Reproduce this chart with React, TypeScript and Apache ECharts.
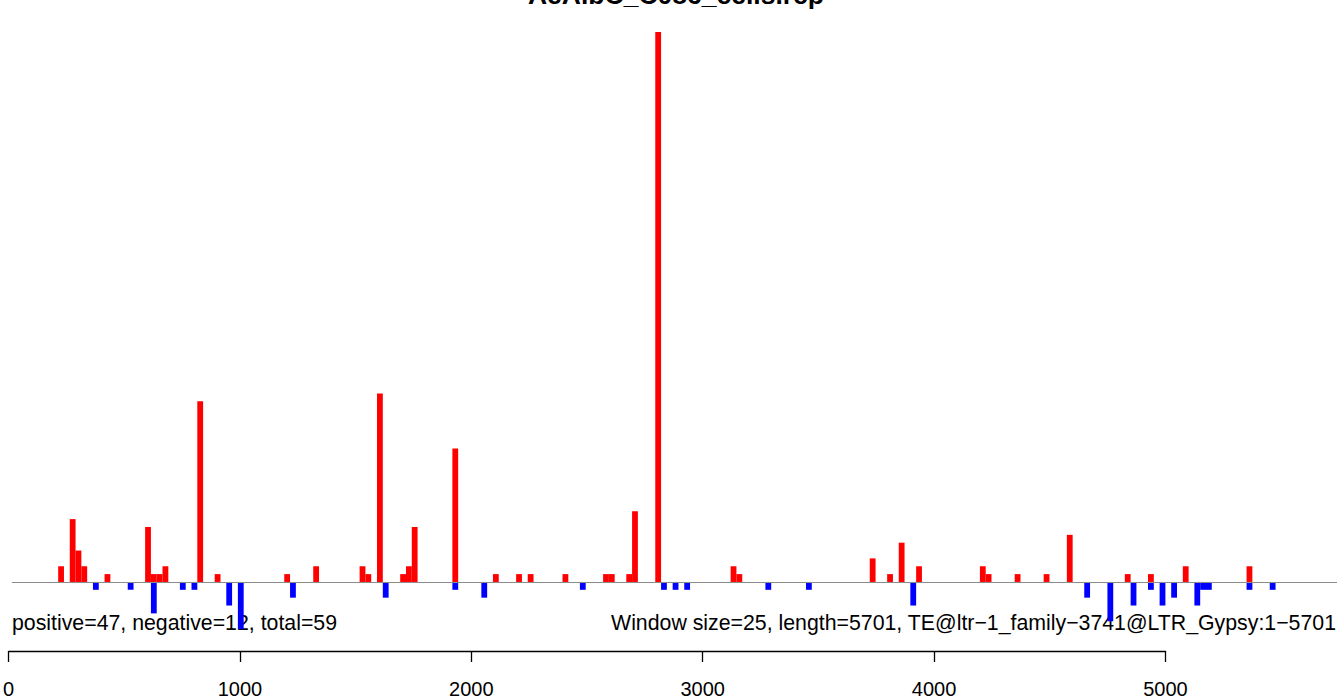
import React, { useEffect, useRef } from "react";
import * as echarts from "echarts";

const WINDOW_SIZE = 25;
const SEQ_MAX = 5740;

const posStarts = [225, 275, 300, 325, 425, 600, 625, 650, 675, 825, 900, 1200, 1325, 1525, 1550, 1600, 1700, 1725, 1750, 1925, 2100, 2200, 2250, 2400, 2575, 2600, 2675, 2700, 2800, 3125, 3150, 3725, 3800, 3850, 3925, 4200, 4225, 4350, 4475, 4575, 4825, 4925, 5075, 5350];
const posValues = [2, 8, 4, 2, 1, 7, 1, 1, 2, 23, 1, 1, 2, 2, 1, 24, 1, 2, 7, 17, 1, 1, 1, 1, 1, 1, 1, 9, 70, 2, 1, 3, 1, 5, 2, 2, 1, 1, 1, 6, 1, 1, 2, 2];

const negStarts = [375, 525, 625, 750, 800, 950, 1000, 1225, 1625, 1925, 2050, 2475, 2825, 2875, 2925, 3275, 3450, 3900, 4650, 4750, 4850, 4925, 4975, 5025, 5125, 5150, 5175, 5350, 5450];
const negValues = [-1, -1, -4, -1, -1, -3, -6, -2, -2, -1, -2, -1, -1, -1, -1, -1, -1, -3, -2, -5, -3, -1, -3, -2, -3, -1, -1, -1, -1];

const axisTicks = [0, 1000, 2000, 3000, 4000, 5000];

const titleText = "AeAlbC_C086_cells.rcp";
const leftNote = "positive=47, negative=12, total=59";
const rightNote = "Window size=25, length=5701, TE@ltr\u22121_family\u22123741@LTR_Gypsy:1\u22125701";

const FONT = "'Liberation Sans', Arial, Helvetica, sans-serif";

export default function App() {
  const ref = useRef<HTMLDivElement>(null);
  useEffect(() => {
    document.body.style.margin = "0";
    const chart = echarts.init(ref.current!, null, { renderer: "svg" });
    const renderBar = (color: string) => (params: any, api: any) => {
      const x = api.value(0);
      const v = api.value(1);
      const p0 = api.coord([x, 0]);
      const p1 = api.coord([x + WINDOW_SIZE, v]);
      return {
        type: "rect",
        shape: {
          x: p0[0],
          y: Math.min(p0[1], p1[1]),
          width: p1[0] - p0[0],
          height: Math.abs(p1[1] - p0[1]),
        },
        style: { fill: color },
      };
    };
    const option: any = {
      animation: false,
      backgroundColor: "#ffffff",
      grid: [
        { left: 6, right: 0, top: 32, bottom: 69.9, containLabel: false },
        { left: 6, width: 1159.5, top: 600, bottom: 44, containLabel: false },
      ],
      xAxis: [
        { type: "value", gridIndex: 0, min: 0, max: SEQ_MAX, show: false },
        {
          type: "value",
          gridIndex: 1,
          min: axisTicks[0],
          max: axisTicks[axisTicks.length - 1],
          interval: 1000,
          position: "bottom",
          axisLine: { show: true, lineStyle: { color: "#000", width: 1.3 } },
          axisTick: { show: true, length: 11, lineStyle: { color: "#000", width: 1.3 } },
          axisLabel: {
            show: true,
            color: "#000",
            fontSize: 20,
            fontFamily: FONT,
            margin: 28,
            formatter: (v: number) => String(v),
          },
          splitLine: { show: false },
        },
      ],
      yAxis: [
        { type: "value", gridIndex: 0, min: -6, max: 70, show: false },
        { type: "value", gridIndex: 1, min: 0, max: 1, show: false },
      ],
      series: [
        {
          type: "custom",
          xAxisIndex: 0,
          yAxisIndex: 0,
          renderItem: renderBar("#ff0000"),
          data: posStarts.map((s, i) => [s, posValues[i]]),
          markLine: {
            silent: true,
            symbol: "none",
            label: { show: false },
            lineStyle: { color: "#8c8c8c", width: 1, type: "solid" },
            data: [[{ coord: [WINDOW_SIZE, 0] }, { coord: [SEQ_MAX, 0] }]],
          },
          z: 2,
        },
        {
          type: "custom",
          xAxisIndex: 0,
          yAxisIndex: 0,
          renderItem: renderBar("#0000ff"),
          data: negStarts.map((s, i) => [s, negValues[i]]),
          z: 3,
        },
      ],
      graphic: [
        {
          type: "text",
          x: 676,
          y: -5,
          style: {
            text: titleText,
            font: `bold 26.5px ${FONT}`,
            fill: "#000",
            textAlign: "center",
            textVerticalAlign: "middle",
          },
        },
        {
          type: "text",
          x: 12,
          y: 623,
          style: {
            text: leftNote,
            font: `21.3px ${FONT}`,
            fill: "#000",
            textAlign: "left",
            textVerticalAlign: "middle",
          },
        },
        {
          type: "text",
          x: 1336,
          y: 623,
          style: {
            text: rightNote,
            font: `21.3px ${FONT}`,
            fill: "#000",
            textAlign: "right",
            textVerticalAlign: "middle",
          },
        },
      ],
    };
    chart.setOption(option);
    return () => chart.dispose();
  }, []);
  return <div ref={ref} style={{ width: 1337, height: 699 }} />;
}
